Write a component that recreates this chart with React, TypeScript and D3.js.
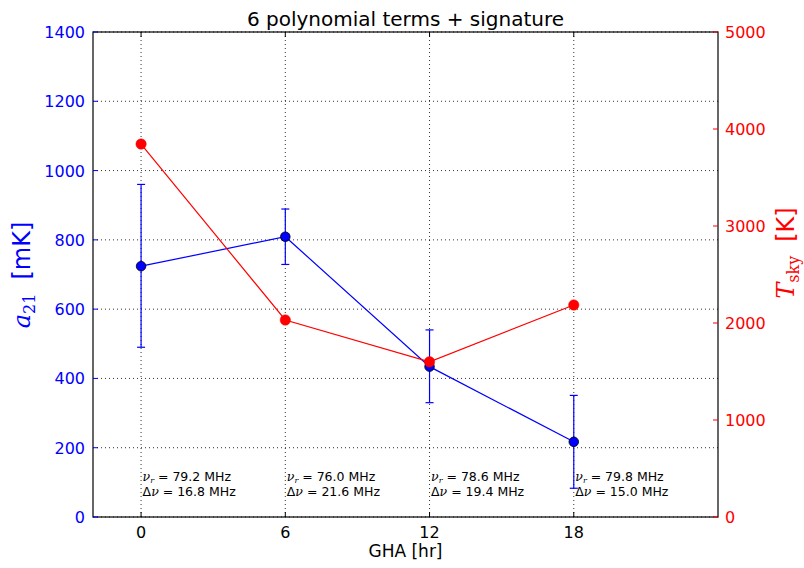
import React from "react";
import * as d3 from "d3";

const gha = [0, 6, 12, 18];
const a21 = [724, 809, 434, 217];
const a21Lo = [490, 729, 330, 83];
const a21Hi = [960, 889, 540, 351];
const tsky = [3845, 2031, 1600, 2186];
const nuR = ["79.2", "76.0", "78.6", "79.8"];
const dNu = ["16.8", "21.6", "19.4", "15.0"];
const xTicks = [0, 6, 12, 18];
const leftTicks = [0, 200, 400, 600, 800, 1000, 1200, 1400];
const rightTicks = [0, 1000, 2000, 3000, 4000, 5000];
const title = "6 polynomial terms + signature";

const W = 804, H = 568;
const L = 93, R = 718, T = 32, B = 517;

export default function App() {
  const x = d3.scaleLinear().domain([-2, 24]).range([L, R]);
  const yL = d3.scaleLinear().domain([0, 1400]).range([B, T]);
  const yR = d3.scaleLinear().domain([0, 5000]).range([B, T]);
  const blueLine = d3.line<number>().x((_, i) => x(gha[i])).y((d) => yL(d))(a21) as string;
  const redLine = d3.line<number>().x((_, i) => x(gha[i])).y((d) => yR(d))(tsky) as string;
  const font = "DejaVu Sans, sans-serif";
  const serif = "DejaVu Serif, Liberation Serif, serif";
  return (
    <svg width={W} height={H} style={{ position: "absolute", left: 0, top: 0, background: "#fff" }} fontFamily={font}>
      <rect x={0} y={0} width={W} height={H} fill="#fff" />
      {/* grid */}
      {xTicks.map((t) => (
        <line key={"gx" + t} x1={x(t)} x2={x(t)} y1={T} y2={B} stroke="#000" strokeWidth={1} strokeDasharray="1,3" opacity={0.8} />
      ))}
      {leftTicks.map((t) => (
        <line key={"gy" + t} x1={L} x2={R} y1={yL(t)} y2={yL(t)} stroke="#000" strokeWidth={1} strokeDasharray="1,3" opacity={0.8} />
      ))}
      {/* annotations */}
      {gha.map((g, i) => (
        <g key={"an" + i} fontSize={12.5} fill="#000">
          <text x={x(g) + 1.5} y={481}>
            <tspan fontStyle="italic" fontFamily={serif}>ν</tspan>
            <tspan fontStyle="italic" fontFamily={serif} fontSize={8} dy={2}>r</tspan>
            <tspan dy={-2}>{" = " + nuR[i] + " MHz"}</tspan>
          </text>
          <text x={x(g) + 1.5} y={496}>
            <tspan>Δ</tspan>
            <tspan fontStyle="italic" fontFamily={serif}>ν</tspan>
            <tspan>{" = " + dNu[i] + " MHz"}</tspan>
          </text>
        </g>
      ))}
      {/* blue series */}
      <path d={blueLine} fill="none" stroke="#0000ff" strokeWidth={1.2} />
      {gha.map((g, i) => (
        <g key={"eb" + i} stroke="#0000ff" strokeWidth={1.2}>
          <line x1={x(g)} x2={x(g)} y1={yL(a21Lo[i])} y2={yL(a21Hi[i])} />
          <line x1={x(g) - 4} x2={x(g) + 4} y1={yL(a21Lo[i])} y2={yL(a21Lo[i])} />
          <line x1={x(g) - 4} x2={x(g) + 4} y1={yL(a21Hi[i])} y2={yL(a21Hi[i])} />
        </g>
      ))}
      {gha.map((g, i) => (
        <circle key={"bp" + i} cx={x(g)} cy={yL(a21[i])} r={4.8} fill="#0000ff" stroke="#000" strokeWidth={0.8} />
      ))}
      {/* red series */}
      <path d={redLine} fill="none" stroke="#ff0000" strokeWidth={1.2} />
      {gha.map((g, i) => (
        <circle key={"rp" + i} cx={x(g)} cy={yR(tsky[i])} r={5.2} fill="#ff0000" stroke="#ff0000" strokeWidth={0.5} />
      ))}
      {/* frame */}
      <rect x={L} y={T} width={R - L} height={B - T} fill="none" stroke="#000" strokeWidth={1.2} />
      {/* x ticks */}
      {xTicks.map((t) => (
        <g key={"xt" + t}>
          <line x1={x(t)} x2={x(t)} y1={B} y2={B - 5} stroke="#000" />
          <line x1={x(t)} x2={x(t)} y1={T} y2={T + 5} stroke="#000" />
          <text x={x(t)} y={538} textAnchor="middle" fontSize={16} fill="#000">{t}</text>
        </g>
      ))}
      {/* left ticks */}
      {leftTicks.map((t) => (
        <g key={"lt" + t}>
          <line x1={L} x2={L + 5} y1={yL(t)} y2={yL(t)} stroke="#0000ff" />
          <text x={L - 8} y={yL(t) + 6} textAnchor="end" fontSize={16} fill="#0000ff">{t}</text>
        </g>
      ))}
      {/* right ticks */}
      {rightTicks.map((t) => (
        <g key={"rt" + t}>
          <line x1={R} x2={R - 5} y1={yR(t)} y2={yR(t)} stroke="#ff0000" />
          <text x={R + 7} y={yR(t) + 6} textAnchor="start" fontSize={16} fill="#ff0000">{t}</text>
        </g>
      ))}
      {/* labels */}
      <text x={(L + R) / 2} y={26} textAnchor="middle" fontSize={20} fill="#000">{title}</text>
      <text x={(L + R) / 2} y={557} textAnchor="middle" fontSize={17} fill="#000">GHA [hr]</text>
      <text transform={`translate(30,275) rotate(-90)`} textAnchor="middle" fontSize={24} fill="#0000ff">
        <tspan fontStyle="italic" fontFamily={serif}>a</tspan>
        <tspan fontFamily={serif} fontSize={16} dy={5}>21</tspan>
        <tspan dy={-5} dx={14}>[mK]</tspan>
      </text>
      <text transform={`translate(794,253) rotate(-90)`} textAnchor="middle" fontSize={24} fill="#ff0000">
        <tspan fontStyle="italic" fontFamily={serif}>T</tspan>
        <tspan fontFamily={serif} fontSize={16} dy={5}>sky</tspan>
        <tspan dy={-5} dx={14}>[K]</tspan>
      </text>
    </svg>
  );
}
